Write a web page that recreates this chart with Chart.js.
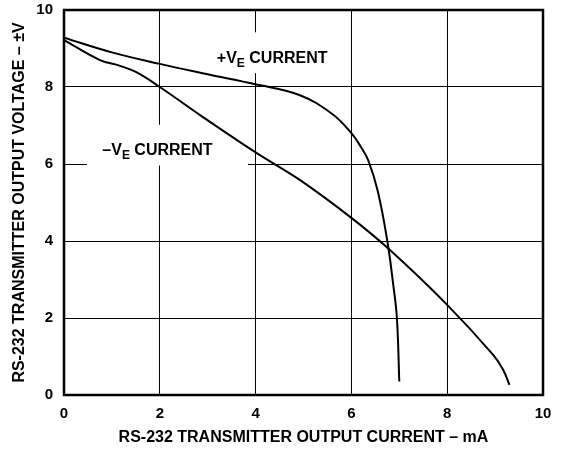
<!DOCTYPE html>
<html>
<head>
<meta charset="utf-8">
<script src="https://cdn.jsdelivr.net/npm/chart.js@4/dist/chart.umd.min.js"></script>
<style>
  html, body { margin: 0; padding: 0; background: #fff; }
  .chart-wrap { position: relative; width: 562px; height: 451px; }
</style>
</head>
<body>
<div class="chart-wrap"><canvas id="currentChart"></canvas></div>
<script>
// +VE current curve (mA, V)
const posCurrent = [0, 1, 2, 3, 4, 4.9, 5.6, 6.0, 6.2, 6.35, 6.55, 6.75, 6.87, 6.95, 7.0];
const posVoltage = [9.28, 8.9, 8.6, 8.33, 8.07, 7.8, 7.3, 6.8, 6.44, 6.1, 5.3, 4.0, 2.9, 2.0, 0.35];

// -VE current curve
const negCurrent = [0, 0.75, 1.17, 1.5, 2.0, 2.84, 4.0, 4.93, 6.0, 6.8, 8.0, 8.96, 9.17, 9.3];
const negVoltage = [9.22, 8.7, 8.55, 8.39, 8.0, 7.27, 6.3, 5.58, 4.6, 3.77, 2.34, 1.04, 0.65, 0.26];

const xTicks = [0, 2, 4, 6, 8, 10];
const yTicks = [0, 2, 4, 6, 8, 10];

// curve labels, placed in data units (x, baseline y) with a white patch behind
const curveLabels = [
  { sign: '+', x: 3.19, y: 8.62, box: [2.95, 8.36, 5.75, 9.42] },
  { sign: '\u2013', x: 0.8, y: 6.23, box: [0.48, 5.96, 3.84, 7.02] }
];

const FONT = '"Liberation Sans", Arial, sans-serif';

const toPoints = (xs, ys) => xs.map((x, i) => ({ x, y: ys[i] }));

const labelPlugin = {
  id: 'curveLabels',
  beforeDatasetsDraw(chart) {
    const { ctx, scales: { x, y } } = chart;
    ctx.save();
    ctx.fillStyle = '#fff';
    curveLabels.forEach((l) => {
      const [x0, y0, x1, y1] = l.box;
      const px0 = x.getPixelForValue(x0);
      const px1 = x.getPixelForValue(x1);
      const py0 = y.getPixelForValue(y1);
      const py1 = y.getPixelForValue(y0);
      ctx.fillRect(px0, py0, px1 - px0, py1 - py0);
    });
    ctx.fillStyle = '#000';
    ctx.textBaseline = 'alphabetic';
    ctx.textAlign = 'left';
    curveLabels.forEach((l) => {
      let px = x.getPixelForValue(l.x);
      const py = y.getPixelForValue(l.y);
      ctx.font = 'bold 16px ' + FONT;
      const head = l.sign + 'V';
      ctx.fillText(head, px, py);
      px += ctx.measureText(head).width;
      ctx.font = 'bold 12px ' + FONT;
      ctx.fillText('E', px, py + 4);
      px += ctx.measureText('E').width;
      ctx.font = 'bold 16px ' + FONT;
      ctx.fillText(' CURRENT', px, py);
    });
    ctx.restore();
  },
  afterDatasetsDraw(chart) {
    const { ctx, chartArea: a } = chart;
    ctx.save();
    ctx.strokeStyle = '#000';
    ctx.lineWidth = 2.5;
    ctx.strokeRect(a.left, a.top, a.right - a.left, a.bottom - a.top);
    ctx.restore();
  }
};

const axisBase = {
  type: 'linear',
  min: 0,
  max: 10,
  border: { display: false },
  grid: { color: '#000', lineWidth: 1, drawTicks: false },
  ticks: {
    color: '#000',
    font: { family: FONT, size: 15, weight: 'bold' }
  },
  title: {
    display: true,
    color: '#000',
    font: { family: FONT, size: 16, weight: 'bold' }
  }
};

const lineStyle = {
  showLine: true,
  borderColor: '#000',
  borderWidth: 2,
  pointRadius: 0,
  tension: 0.4
};

new Chart(document.getElementById('currentChart'), {
  type: 'scatter',
  data: {
    datasets: [
      { label: '+VE CURRENT', data: toPoints(posCurrent, posVoltage), ...lineStyle },
      { label: '-VE CURRENT', data: toPoints(negCurrent, negVoltage), ...lineStyle }
    ]
  },
  options: {
    responsive: true,
    maintainAspectRatio: false,
    animation: false,
    layout: { padding: { top: 10, right: 19, left: 0, bottom: 0 } },
    plugins: {
      legend: { display: false },
      tooltip: { enabled: false }
    },
    scales: {
      x: {
        ...axisBase,
        afterBuildTicks: (scale) => { scale.ticks = xTicks.map((v) => ({ value: v })); },
        afterFit: (scale) => {
          scale.height = 56;
          scale.paddingLeft = 0;
          scale.paddingRight = 0;
        },
        ticks: { ...axisBase.ticks, padding: 10 },
        title: { ...axisBase.title, text: 'RS-232 TRANSMITTER OUTPUT CURRENT \u2013 mA', padding: { top: 0, bottom: 4 } }
      },
      y: {
        ...axisBase,
        afterBuildTicks: (scale) => { scale.ticks = yTicks.map((v) => ({ value: v })); },
        afterFit: (scale) => {
          scale.width = 64;
          scale.paddingTop = 0;
          scale.paddingBottom = 0;
        },
        ticks: { ...axisBase.ticks, padding: 11 },
        title: { ...axisBase.title, text: 'RS-232 TRANSMITTER OUTPUT VOLTAGE \u2013 \u00b1V', padding: { top: 10, bottom: 0 } }
      }
    }
  },
  plugins: [labelPlugin]
});
</script>
</body>
</html>
